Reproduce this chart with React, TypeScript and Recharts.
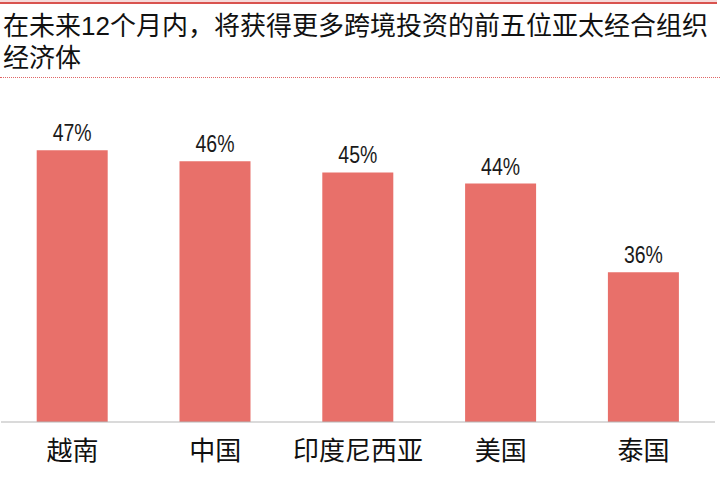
import React from 'react';
import { BarChart, Bar, XAxis, YAxis, LabelList } from 'recharts';

const categories = ['越南', '中国', '印度尼西亚', '美国', '泰国'];
const shares = [47, 46, 45, 44, 36];
const titleLines = ['在未来12个月内，将获得更多跨境投资的前五位亚太经合组织', '经济体'];

const data = categories.map((name, i) => ({ name, value: shares[i] }));

const CJK = "'Noto Sans CJK SC', 'Noto Sans', sans-serif";

const ValueLabel = (props: any) => {
  const { x, y, width, value } = props;
  return (
    <text
      x={Number(x) + Number(width) / 2}
      y={Number(y) - 9}
      textAnchor="middle"
      fill="#1a1a1a"
      fontSize={24}
      fontFamily="'Liberation Sans', sans-serif"
      textLength={39}
      lengthAdjust="spacingAndGlyphs"
    >
      {`${value}%`}
    </text>
  );
};

export default function App() {
  return (
    <div style={{ position: 'fixed', left: 0, top: 0, width: 720, height: 487, background: '#fff', overflow: 'hidden' }}>
      <div style={{ position: 'absolute', left: 0, top: 0, width: 717, height: 2, background: '#f6dada' }} />
      <div style={{ position: 'absolute', left: 0, top: 2, width: 717, height: 2, background: '#d9534f' }} />
      <div
        style={{
          position: 'absolute',
          left: 3,
          top: 11,
          fontFamily: "'Liberation Sans', 'Noto Sans CJK SC', sans-serif",
          fontSize: 26,
          lineHeight: '31.5px',
          color: '#111',
          whiteSpace: 'nowrap',
        }}
      >
        {titleLines.map((t) => (
          <div key={t}>{t}</div>
        ))}
      </div>
      <div style={{ position: 'absolute', left: 0, top: 77, width: 720, height: 0, borderTop: '1px dotted #e06666' }} />
      <div style={{ position: 'absolute', left: 0, top: 0 }}>
        <BarChart
          width={720}
          height={487}
          data={data}
          margin={{ top: 117, right: 5, bottom: 0, left: 1 }}
          barCategoryGap="25%"
        >
          <YAxis hide domain={[22.5, 50]} allowDataOverflow />
          <XAxis
            dataKey="name"
            axisLine={{ stroke: '#b5b5b5', strokeWidth: 1 }}
            tickLine={false}
            tickSize={0}
            tickMargin={20}
            height={65}
            interval={0}
            tick={{ fill: '#111', fontSize: 26, fontFamily: CJK }}
          />
          <Bar dataKey="value" fill="#e8706a" isAnimationActive={false}>
            <LabelList dataKey="value" content={ValueLabel} />
          </Bar>
        </BarChart>
      </div>
    </div>
  );
}
